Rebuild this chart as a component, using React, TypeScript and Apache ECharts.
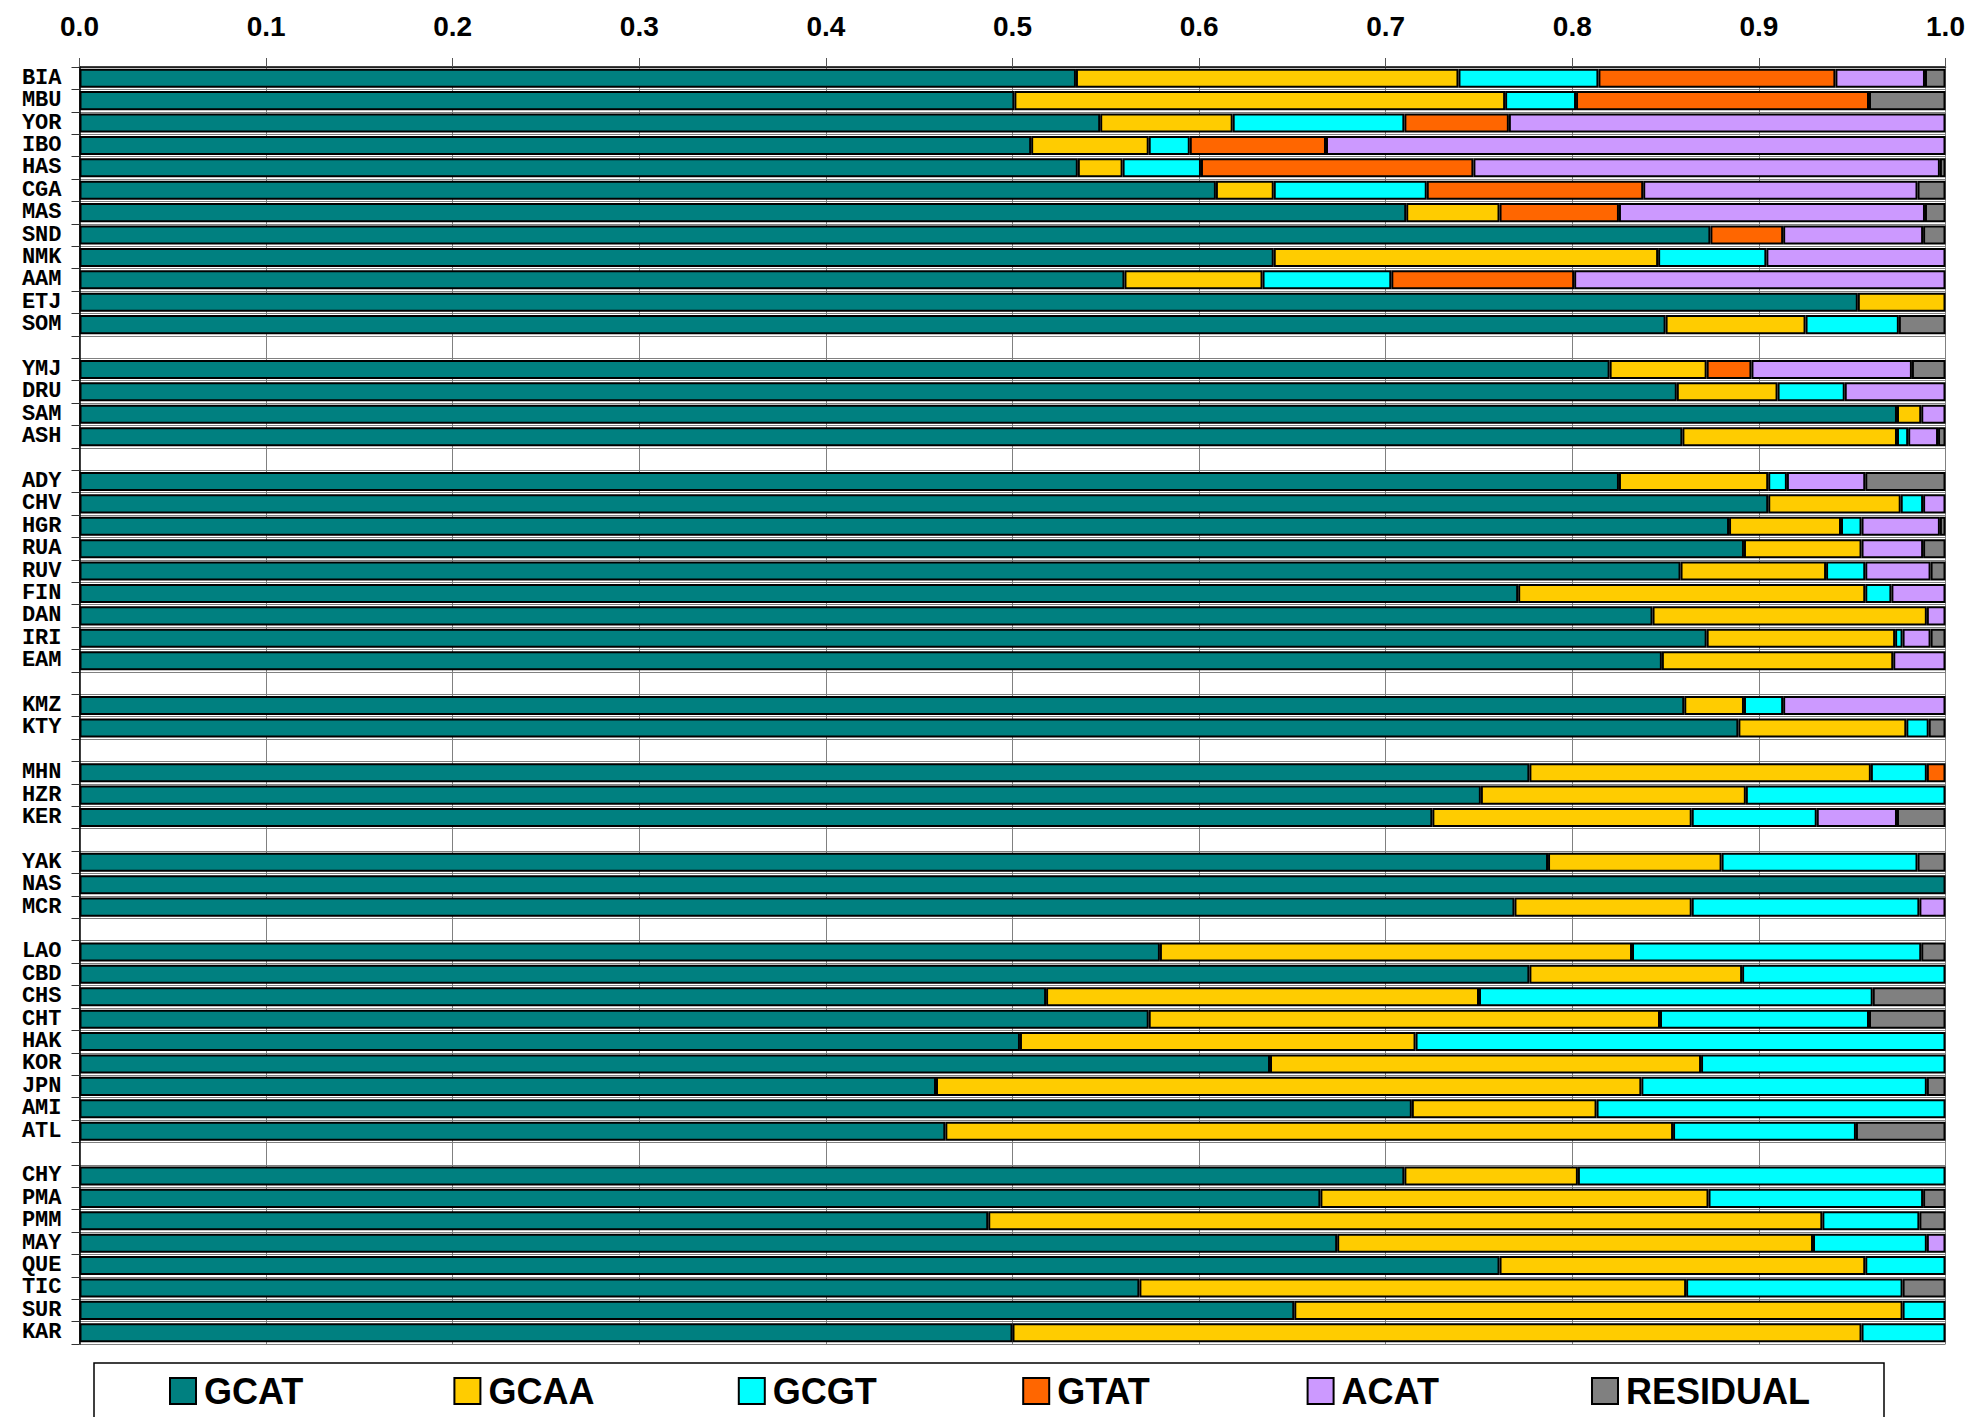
import React, { useEffect, useRef } from 'react';
import * as echarts from 'echarts';

// Category rows (blank entries are the empty separator rows between groups)
const categories = [
  'BIA', 'MBU', 'YOR', 'IBO', 'HAS', 'CGA', 'MAS', 'SND', 'NMK', 'AAM', 'ETJ', 'SOM',
  ' ',
  'YMJ', 'DRU', 'SAM', 'ASH',
  '  ',
  'ADY', 'CHV', 'HGR', 'RUA', 'RUV', 'FIN', 'DAN', 'IRI', 'EAM',
  '   ',
  'KMZ', 'KTY',
  '    ',
  'MHN', 'HZR', 'KER',
  '     ',
  'YAK', 'NAS', 'MCR',
  '      ',
  'LAO', 'CBD', 'CHS', 'CHT', 'HAK', 'KOR', 'JPN', 'AMI', 'ATL',
  '       ',
  'CHY', 'PMA', 'PMM', 'MAY', 'QUE', 'TIC', 'SUR', 'KAR',
];

const seriesNames = ['GCAT', 'GCAA', 'GCGT', 'GTAT', 'ACAT', 'RESIDUAL'];
const seriesColors = ['#008080', '#FFCC00', '#00FFFF', '#FF6600', '#CC99FF', '#808080'];
const tickLabels = ['0.0', '0.1', '0.2', '0.3', '0.4', '0.5', '0.6', '0.7', '0.8', '0.9', '1.0'];

const GCAT = [
  0.534, 0.501, 0.547, 0.510, 0.535, 0.609, 0.711, 0.874, 0.640, 0.560, 0.953, 0.850,
  null,
  0.820, 0.856, 0.974, 0.859,
  null,
  0.825, 0.905, 0.884, 0.892, 0.858, 0.771, 0.843, 0.872, 0.848,
  null,
  0.860, 0.889,
  null,
  0.777, 0.751, 0.725,
  null,
  0.787, 1.000, 0.769,
  null,
  0.579, 0.777, 0.518, 0.573, 0.504, 0.638, 0.459, 0.714, 0.464,
  null,
  0.710, 0.665, 0.487, 0.674, 0.761, 0.568, 0.651, 0.500,
];

const GCAA = [
  0.205, 0.263, 0.071, 0.063, 0.024, 0.031, 0.050, 0, 0.206, 0.074, 0.047, 0.075,
  null,
  0.052, 0.054, 0.013, 0.115,
  null,
  0.080, 0.071, 0.060, 0.063, 0.078, 0.186, 0.147, 0.101, 0.124,
  null,
  0.032, 0.090,
  null,
  0.183, 0.142, 0.139,
  null,
  0.093, 0, 0.095,
  null,
  0.253, 0.114, 0.232, 0.274, 0.212, 0.231, 0.378, 0.099, 0.390,
  null,
  0.093, 0.208, 0.447, 0.255, 0.196, 0.293, 0.326, 0.455,
];

const GCGT = [
  0.075, 0.038, 0.092, 0.022, 0.042, 0.082, 0, 0, 0.058, 0.069, 0, 0.050,
  null,
  0, 0.036, 0, 0.006,
  null,
  0.010, 0.012, 0.011, 0, 0.021, 0.014, 0, 0.004, 0,
  null,
  0.021, 0.012,
  null,
  0.030, 0.107, 0.067,
  null,
  0.105, 0, 0.122,
  null,
  0.155, 0.109, 0.211, 0.112, 0.284, 0.131, 0.153, 0.187, 0.098,
  null,
  0.197, 0.115, 0.052, 0.061, 0.043, 0.116, 0.023, 0.045,
];

const GTAT = [
  0.127, 0.157, 0.056, 0.073, 0.146, 0.116, 0.064, 0.039, 0, 0.098, 0, 0,
  null,
  0.024, 0, 0, 0,
  null,
  0, 0, 0, 0, 0, 0, 0, 0, 0,
  null,
  0, 0,
  null,
  0.010, 0, 0,
  null,
  0, 0, 0,
  null,
  0, 0, 0, 0, 0, 0, 0, 0, 0,
  null,
  0, 0, 0, 0, 0, 0, 0, 0,
];

const ACAT = [
  0.048, 0, 0.234, 0.332, 0.250, 0.147, 0.164, 0.075, 0.096, 0.199, 0, 0,
  null,
  0.086, 0.054, 0.013, 0.016,
  null,
  0.042, 0.012, 0.042, 0.033, 0.035, 0.029, 0.010, 0.015, 0.028,
  null,
  0.087, 0,
  null,
  0, 0, 0.043,
  null,
  0, 0, 0.014,
  null,
  0, 0, 0, 0, 0, 0, 0, 0, 0,
  null,
  0, 0, 0, 0.010, 0, 0, 0, 0,
];

const RESIDUAL = [
  0.011, 0.041, 0, 0, 0.003, 0.015, 0.011, 0.012, 0, 0, 0, 0.025,
  null,
  0.018, 0, 0, 0.004,
  null,
  0.043, 0, 0.003, 0.012, 0.008, 0, 0, 0.008, 0,
  null,
  0, 0.009,
  null,
  0, 0, 0.026,
  null,
  0.015, 0, 0,
  null,
  0.013, 0, 0.039, 0.041, 0, 0, 0.010, 0, 0.048,
  null,
  0, 0.012, 0.014, 0, 0, 0.023, 0, 0,
];

const seriesValues = [GCAT, GCAA, GCGT, GTAT, ACAT, RESIDUAL];

export default function App() {
  const ref = useRef<HTMLDivElement>(null);

  useEffect(() => {
    const chart = echarts.init(ref.current as HTMLDivElement, null, { renderer: 'svg' });

    const series = seriesNames.map((name, i) => ({
      name,
      type: 'bar',
      stack: 'total',
      barCategoryGap: '15%',
      itemStyle: { color: seriesColors[i], borderColor: '#000', borderWidth: 2 },
      emphasis: { disabled: true },
      data: seriesValues[i].map((v) => (v === 0 || v === null ? null : v)),
    }));

    const legendLeft0 = 169;
    const legendStep = 284.4;
    const legends = seriesNames.map((name, i) => ({
      data: [name],
      left: legendLeft0 + i * legendStep,
      top: 1373,
      padding: 0,
      icon: 'rect',
      itemWidth: 26,
      itemHeight: 26,
      selectedMode: false,
      itemStyle: { borderColor: '#000', borderWidth: 2 },
      textStyle: {
        fontFamily: 'Liberation Sans',
        fontWeight: 'bold',
        fontSize: 36,
        color: '#000',
        padding: [0, 0, 0, 3],
      },
    }));

    chart.setOption({
      animation: false,
      backgroundColor: '#fff',
      grid: {
        left: 79.5,
        right: 25.5,
        top: 67,
        bottom: 73,
        containLabel: false,
        outerBoundsMode: 'none',
      },
      xAxis: {
        type: 'value',
        position: 'top',
        min: 0,
        max: 1,
        interval: 0.1,
        axisLine: { show: true, lineStyle: { color: '#000', width: 1.5 } },
        axisTick: { show: true, length: 9, lineStyle: { color: '#555', width: 1 } },
        axisLabel: {
          formatter: (v: number) => tickLabels[Math.round(v * 10)] ?? v.toFixed(1),
          fontFamily: 'Liberation Sans',
          fontWeight: 'bold',
          fontSize: 28,
          color: '#000',
          margin: 27,
        },
        splitLine: { show: true, lineStyle: { color: '#808080', width: 1 } },
      },
      yAxis: {
        type: 'category',
        inverse: true,
        data: categories,
        axisLine: { show: true, lineStyle: { color: '#000', width: 1.5 } },
        axisTick: { show: true, length: 8, lineStyle: { color: '#333', width: 1 } },
        axisLabel: {
          fontFamily: 'Liberation Mono',
          fontWeight: 'bold',
          fontSize: 22,
          lineHeight: 20,
          color: '#000',
          margin: 18,
          interval: 0,
        },
        splitLine: { show: true, lineStyle: { color: '#808080', width: 1 } },
      },
      legend: legends,
      graphic: [
        {
          type: 'rect',
          shape: { x: 94, y: 1363, width: 1790, height: 80 },
          style: { fill: 'none', stroke: '#000', lineWidth: 1.5 },
          silent: true,
        },
      ],
      series,
    });

    return () => chart.dispose();
  }, []);

  return (
    <div
      ref={ref}
      style={{ position: 'fixed', left: 0, top: 0, width: 1971, height: 1417, background: '#fff' }}
    />
  );
}
